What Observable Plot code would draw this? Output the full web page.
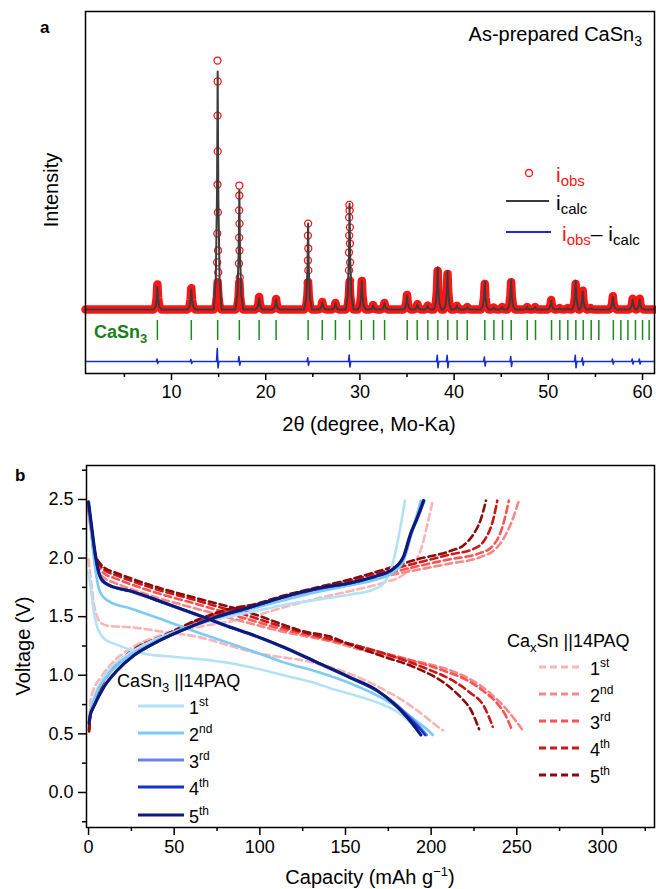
<!DOCTYPE html>
<html><head><meta charset="utf-8">
<script src="https://cdn.jsdelivr.net/npm/d3@7"></script>
<script src="https://cdn.jsdelivr.net/npm/@observablehq/plot@0.6"></script>
<style>
body{margin:0;background:#fff;}
#wrap{position:relative;width:656px;height:889px;overflow:hidden;}
#pa{position:absolute;left:0;top:0}
#pb{position:absolute;left:0;top:440px}
svg{overflow:visible}
</style></head><body><div id="wrap"><div id="pa"></div><div id="pb"></div></div>
<script>
const FONT = "'Liberation Sans', Arial, Helvetica, sans-serif";

// ---------- Panel a: XRD ----------
const peakPos    = [8.5, 12.1, 14.9, 17.2, 19.3, 21.1, 24.5, 26.0, 27.4, 28.9, 30.2, 31.4, 32.6, 35.0, 36.1, 37.2, 38.25, 39.3, 40.3, 41.4, 43.25, 44.2, 45.1, 46.05, 47.75, 48.6, 50.3, 51.2, 52.05, 52.9, 53.65, 54.5, 56.85, 58.95, 59.7];
const calcHeight = [9.0, 8.0, 95.6, 48.0, 4.5, 4.0, 34.5, 2.8, 2.5, 42.5, 11.5, 1.5, 2.5, 5.5, 2.0, 1.5, 17.0, 15.4, 1.5, 1.0, 11.2, 0.8, 1.0, 11.9, 1.0, 1.0, 3.5, 0.5, 0.5, 11.6, 7.2, 0.5, 5.0, 4.0, 4.0];
const obsHeight  = [10.0, 8.5, 100, 50, 5.0, 4.2, 34.5, 3.0, 2.6, 42, 11.5, 1.8, 2.6, 5.8, 2.2, 1.6, 15.5, 14.3, 1.5, 1.0, 10.3, 0.8, 1.0, 11.0, 1.0, 1.0, 3.8, 0.5, 0.5, 10.3, 7.5, 0.5, 5.3, 4.3, 4.3];
const shapeDx   = [-0.42, -0.2, -0.07, 0, 0.07, 0.2, 0.42];
const shapeFrac = [0, 0.13, 0.48, 1, 0.48, 0.13, 0];
// resolved observed points on the tall reflections [2theta, intensity]
const obsPeakPoints = [
  [14.88,100],[14.9,91.6],[14.88,77.9],[14.9,63.5],[14.88,50.2],[14.92,39],[14.86,30.5],[14.94,23.7],[14.84,18.9],[14.96,14.9],
  [17.2,49.8],[17.2,45.8],[17.18,39.8],[17.22,34.5],[17.18,28.9],[17.22,23.7],[17.16,18.5],[17.24,12.9],
  [24.5,34.5],[24.48,29.7],[24.52,24.5],[24.48,19.7],[24.52,15.7],[24.46,10.8],
  [28.88,42],[28.9,39.8],[28.86,37],[28.94,33],[28.86,29.7],[28.94,26.5],[28.84,22.9],[28.96,18.9],[28.84,15.7],[28.96,11.6]
];
const braggPos = [8.5, 12.1, 14.9, 17.2, 19.3, 21.1, 24.5, 26.0, 27.4, 28.9, 30.15, 31.45, 32.62, 35.02, 36.08, 37.21, 38.27, 39.33, 40.32, 41.39, 43.26, 44.22, 45.14, 46.06, 47.76, 48.64, 50.34, 51.22, 52.07, 52.92, 53.70, 54.55, 55.36, 56.9, 57.7, 58.45, 59.25, 60.0, 60.7];
const diffPos  = [8.5, 12.1, 14.9, 17.2, 24.5, 28.9, 38.25, 39.3, 43.25, 46.05, 52.9, 53.65, 56.85, 58.95, 59.7];
const diffUp   = [1.0, 0.8, 5.2, 2.0, 1.5, 2.6, 2.5, 2.5, 1.8, 2.0, 2.5, 1.5, 1.0, 1.0, 1.0];
const diffDown = [0.8, 0.8, 2.6, 1.5, 1.5, 2.2, 2.5, 2.5, 1.8, 2.0, 2.5, 1.5, 1.0, 1.0, 1.0];
const diffBase = -20.9;
const xTicksA = [10, 20, 30, 40, 50, 60];
const xMinorA = [5, 15, 25, 35, 45, 55];
const xDomA = [0.87, 61.27];

// ---------- Panel b: voltage profiles [capacity, voltage] ----------
const casnDis1 = [[0,1.88],[1.5,1.72],[3,1.55],[4.5,1.44],[7,1.35],[10,1.3],[15,1.27],[24,1.22],[34,1.18],[48,1.16],[63,1.14],[80,1.11],[94,1.07],[106,1.03],[114,1.0],[133,0.93],[141,0.89],[153,0.84],[170,0.76],[182,0.67],[189,0.58],[192.5,0.52],[194.5,0.49]];
const casnDis2 = [[0,2.45],[2,2.15],[4,1.9],[6,1.74],[8,1.68],[12,1.63],[24.5,1.57],[44,1.47],[63,1.37],[83,1.27],[95,1.21],[114,1.11],[133.5,1.03],[153,0.93],[172,0.8],[186,0.67],[194,0.58],[199,0.52],[201,0.49]];
const casnDis3 = [[0,2.47],[2,2.22],[4,2.0],[6,1.86],[8,1.8],[12,1.765],[24.5,1.715],[44,1.615],[63,1.515],[83,1.405],[95,1.345],[114,1.235],[133.5,1.105],[153,0.975],[168.5,0.865],[179,0.76],[188,0.64],[194,0.55],[197.5,0.49]];
const casnDis4 = [[0,2.47],[2,2.23],[4,2.01],[6,1.87],[8,1.81],[12,1.768],[24.5,1.718],[44,1.618],[63,1.518],[83,1.408],[95,1.348],[114,1.238],[133.5,1.108],[153,0.978],[168.5,0.868],[178.5,0.76],[187,0.64],[193,0.55],[196.5,0.49]];
const casnDis5 = [[0,2.48],[2,2.25],[4,2.03],[6,1.88],[7.5,1.82],[12,1.77],[24.5,1.72],[44,1.62],[63,1.52],[83,1.41],[95,1.35],[114,1.24],[133.5,1.11],[153,0.98],[168.5,0.87],[178,0.76],[186,0.64],[191,0.55],[194,0.49]];
const casnCha1 = [[0.3,0.6],[1,0.68],[2.5,0.78],[5,0.88],[9,0.99],[14,1.08],[22,1.17],[35,1.28],[52,1.38],[73,1.47],[95,1.54],[114,1.6],[133.5,1.645],[153,1.69],[166,1.73],[172,1.78],[176,1.88],[179,2.04],[182,2.26],[184.7,2.49]];
const casnCha2 = [[0.3,0.6],[1,0.67],[2.5,0.76],[5,0.86],[9,0.96],[15,1.06],[24,1.17],[36,1.27],[52,1.38],[72,1.48],[93,1.56],[114,1.64],[133.5,1.71],[153,1.77],[168.5,1.82],[178,1.88],[184,1.98],[188,2.18],[191.5,2.36],[194,2.49]];
const casnCha3 = [[0.3,0.6],[1,0.665],[3,0.74],[9,0.905],[16.7,1.045],[26.5,1.17],[38,1.27],[54,1.38],[73,1.485],[93,1.57],[114,1.665],[133.5,1.735],[153,1.785],[168.5,1.845],[178,1.905],[184.5,2.02],[188.5,2.21],[192.5,2.35],[196,2.49]];
const casnCha4 = [[0.3,0.6],[1,0.662],[3,0.735],[9,0.902],[16.7,1.042],[26.5,1.17],[38,1.27],[54,1.38],[73,1.487],[93,1.572],[114,1.668],[133.5,1.738],[153,1.788],[168.5,1.848],[178,1.908],[184.2,2.02],[188.2,2.21],[192.2,2.35],[195.8,2.49]];
const casnCha5 = [[0.3,0.59],[1,0.66],[3,0.73],[9,0.9],[16.7,1.04],[26.5,1.17],[38,1.27],[54,1.38],[73,1.49],[93,1.575],[114,1.67],[133.5,1.74],[153,1.79],[168.5,1.85],[178,1.91],[184,2.02],[188,2.21],[192,2.35],[195.5,2.49]];

const caxsnDis1 = [[0,1.99],[1.5,1.8],[3,1.62],[5,1.5],[7,1.45],[12,1.42],[24.5,1.41],[44,1.37],[63,1.33],[83,1.25],[95,1.2],[110,1.16],[124,1.13],[141,1.07],[153,1.01],[172,0.88],[186,0.76],[198,0.63],[204,0.56],[207,0.53]];
const caxsnDis2 = [[0,2.4],[2,2.15],[4,1.95],[7,1.86],[10,1.82],[15,1.79],[36,1.68],[65,1.56],[95,1.44],[114,1.37],[141,1.29],[161,1.21],[180,1.15],[200,1.09],[215,1.02],[229,0.91],[238,0.8],[244,0.71],[250,0.6],[253,0.54]];
const caxsnDis3 = [[0,2.42],[2,2.18],[4,1.99],[7,1.9],[10,1.86],[15,1.83],[36,1.72],[65,1.6],[95,1.47],[114,1.39],[141,1.3],[170,1.2],[190,1.12],[209,1.03],[222,0.95],[231,0.86],[238,0.77],[243,0.67],[247,0.54]];
const caxsnDis4 = [[0,2.43],[2,2.2],[4,2.0],[7,1.93],[10,1.89],[15,1.86],[36,1.75],[65,1.63],[95,1.5],[114,1.41],[141,1.31],[160,1.24],[180,1.15],[200,1.04],[212,0.96],[222,0.86],[231,0.73],[236,0.56]];
const caxsnDis5 = [[0,2.45],[2,2.22],[4,2.03],[7,1.95],[10,1.91],[15,1.88],[36,1.77],[65,1.65],[95,1.53],[114,1.43],[124,1.38],[141,1.33],[153,1.26],[170,1.17],[190,1.07],[209,0.92],[218,0.8],[223,0.71],[228,0.54]];
const caxsnCha1 = [[0.3,0.55],[1.2,0.78],[3,0.88],[7,0.98],[14.8,1.12],[24.5,1.23],[40,1.33],[63,1.41],[83,1.46],[95,1.5],[114,1.58],[133.5,1.655],[153,1.72],[172,1.79],[184,1.86],[191,1.97],[195,2.12],[198,2.3],[201,2.49]];
const caxsnCha2 = [[0.3,0.54],[1,0.67],[2.1,0.74],[7,0.9],[14.8,1.06],[24.5,1.18],[44,1.32],[63,1.44],[83,1.53],[95,1.57],[114,1.65],[133.5,1.72],[153,1.77],[172,1.84],[192,1.9],[210,1.95],[229,2.01],[237,2.07],[242,2.16],[247.3,2.32],[251.2,2.49]];
const caxsnCha3 = [[0.3,0.54],[1,0.67],[2.1,0.72],[7,0.9],[14.8,1.065],[24.5,1.19],[44,1.33],[63,1.455],[83,1.55],[95,1.585],[114,1.665],[133.5,1.735],[153,1.79],[172,1.86],[192,1.93],[211,1.99],[228,2.04],[235,2.09],[241.5,2.26],[245.4,2.49]];
const caxsnCha4 = [[0.3,0.53],[1,0.66],[2.1,0.71],[7,0.9],[14.8,1.07],[24.5,1.2],[44,1.335],[63,1.465],[83,1.56],[95,1.595],[114,1.675],[133.5,1.745],[153,1.81],[172,1.885],[192,1.96],[211,2.03],[225,2.08],[231,2.15],[236.6,2.35],[238.6,2.49]];
const caxsnCha5 = [[0.3,0.52],[1,0.65],[2.1,0.7],[7,0.9],[14.8,1.07],[24.5,1.2],[44,1.34],[63,1.47],[83,1.57],[95,1.6],[114,1.68],[133.5,1.75],[153,1.82],[172,1.9],[192,1.99],[211,2.06],[219,2.11],[225,2.21],[229,2.33],[232,2.49]];

const cycleLabels = ["1", "2", "3", "4", "5"];
const cycleSup = ["st", "nd", "rd", "th", "th"];
const casnColors  = ["#b4e1fa", "#7ccaf6", "#6a82ee", "#1432c8", "#0c1b78"];
const caxsnColors = ["#fcb4b4", "#f88888", "#ff5252", "#c81818", "#8b0b0b"];
const xTicksB = [0, 50, 100, 150, 200, 250, 300];
const xMinorB = [25, 75, 125, 175, 225, 275, 325];
const yTicksB = [0, 0.5, 1.0, 1.5, 2.0, 2.5];
const yMinorB = [-0.25, 0.25, 0.75, 1.25, 1.75, 2.25, 2.75];

// ---------- helpers ----------
function rich(svg, x, y, parts, o = {}) {
  const size = o.size || 18;
  const t = d3.select(svg).append("text")
    .attr("x", x).attr("y", y)
    .attr("font-family", FONT).attr("font-size", size)
    .attr("text-anchor", o.anchor || "start")
    .attr("font-weight", o.weight || "normal")
    .attr("fill", o.fill || "#000");
  if (o.transform) t.attr("transform", o.transform);
  let shift = 0;
  for (const [s, kind, color, fs] of parts) {
    const ts = t.append("tspan").text(s);
    const target = kind === "sub" ? (o.subShift ?? size * 0.28) : kind === "sup" ? -size * 0.42 : 0;
    if (target - shift !== 0) ts.attr("dy", target - shift);
    shift = target;
    if (kind) ts.attr("font-size", fs || Math.round(size * 0.68));
    else if (fs) ts.attr("font-size", fs);
    if (color) ts.attr("fill", color);
  }
  return t;
}
function seg(svg, x1, y1, x2, y2, stroke, w, dash) {
  const l = d3.select(svg).append("line").attr("x1", x1).attr("y1", y1).attr("x2", x2).attr("y2", y2)
    .attr("stroke", stroke).attr("stroke-width", w);
  if (dash) l.attr("stroke-dasharray", dash);
}

// ---------- build panel a ----------
function profile(heights, cap) {
  const pts = [[xDomA[0], 0], [xDomA[1], 0]];
  peakPos.forEach((p, i) => {
    const h = cap && heights[i] > 20 ? 11 : heights[i];
    shapeDx.forEach((dx, k) => pts.push([p + dx, h * shapeFrac[k]]));
  });
  return pts.sort((a, b) => a[0] - b[0]).map(([x, y]) => ({x, y}));
}
const calcPts = profile(calcHeight, false);
const obsBand = profile(obsHeight, true);
const obsDots = obsPeakPoints.map(([x, y]) => ({x, y}));
const diffPts = [{x: xDomA[0], y: diffBase}];
diffPos.forEach((p, i) => {
  diffPts.push({x: p - 0.12, y: diffBase}, {x: p - 0.04, y: diffBase + diffUp[i]},
               {x: p + 0.04, y: diffBase - diffDown[i]}, {x: p + 0.12, y: diffBase});
});
diffPts.push({x: xDomA[1], y: diffBase});

const svgA = Plot.plot({
  width: 656, height: 440,
  marginLeft: 85, marginRight: 2, marginTop: 11, marginBottom: 67,
  style: {fontFamily: FONT, fontSize: "18px", color: "#000", background: "transparent"},
  x: {domain: xDomA},
  y: {domain: [-25.7, 119.7], axis: null},
  marks: [
    Plot.line(obsBand, {x: "x", y: "y", stroke: "#ff1414", strokeWidth: 8.5, strokeLinejoin: "round"}),
    Plot.dot(obsDots, {x: "x", y: "y", r: 3.5, stroke: "#ff1414", strokeWidth: 1.3, fill: "none"}),
    Plot.line(calcPts, {x: "x", y: "y", stroke: "#3c3c3c", strokeWidth: 2}),
    Plot.ruleX(braggPos, {y1: -4.4, y2: -12.4, stroke: "#1a8a1a", strokeWidth: 1.5}),
    Plot.line(diffPts, {x: "x", y: "y", stroke: "#1a2ecc", strokeWidth: 1.6}),
    Plot.frame({stroke: "#000", strokeWidth: 1.5}),
    Plot.axisX(xTicksA, {tickSize: 7, tickPadding: 5, fontSize: 18, strokeWidth: 1.5, label: null, tickFormat: d => String(d)}),
    Plot.axisX(xMinorA, {tickSize: 4, strokeWidth: 1.5, label: null, tickFormat: () => ""})
  ]
});
document.getElementById("pa").appendChild(svgA);

rich(svgA, 40, 33, [["a"]], {size: 17, weight: "bold"});
rich(svgA, 642, 41, [["As-prepared CaSn"], ["3", "sub", null, 14]], {size: 20, anchor: "end", subShift: 5});
rich(svgA, 0, 0, [["Intensity"]], {size: 20, anchor: "middle", transform: "translate(58,190) rotate(-90)"});
rich(svgA, 94, 338, [["CaSn"], ["3", "sub", null, 13]], {size: 18, weight: "bold", fill: "#1a7f1a", subShift: 5});
// legend a
d3.select(svgA).append("circle").attr("cx", 529).attr("cy", 173).attr("r", 3.5)
  .attr("fill", "none").attr("stroke", "#ff1414").attr("stroke-width", 1.3);
rich(svgA, 556, 182, [["i"], ["obs", "sub", null, 15]], {size: 21, fill: "#ff1414", subShift: 4});
seg(svgA, 506, 201, 549, 201, "#3c3c3c", 2);
rich(svgA, 556, 210, [["i"], ["calc", "sub", null, 15]], {size: 21, subShift: 4});
seg(svgA, 506, 232, 551, 232, "#1a2ecc", 2);
rich(svgA, 562, 241, [["i", null, "#ff1414"], ["obs", "sub", "#ff1414", 15], ["– i", null, "#000"], ["calc", "sub", "#000", 15]], {size: 21, subShift: 4});
rich(svgA, 369, 431, [["2θ (degree, Mo-Ka)"]], {size: 20, anchor: "middle"});

// ---------- build panel b ----------
const casnCurves = [[casnDis1, casnCha1], [casnDis2, casnCha2], [casnDis3, casnCha3], [casnDis4, casnCha4], [casnDis5, casnCha5]];
const caxsnCurves = [[caxsnDis1, caxsnCha1], [caxsnDis2, caxsnCha2], [caxsnDis3, caxsnCha3], [caxsnDis4, caxsnCha4], [caxsnDis5, caxsnCha5]];
const toRows = arr => arr.map(([cap, v]) => ({cap, v}));
const marksB = [];
caxsnCurves.forEach((pair, i) => pair.forEach(c => marksB.push(
  Plot.line(toRows(c), {x: "cap", y: "v", stroke: caxsnColors[i], strokeWidth: 2.6, strokeDasharray: "7,4", curve: "monotone-x"})
)));
casnCurves.forEach((pair, i) => pair.forEach(c => marksB.push(
  Plot.line(toRows(c), {x: "cap", y: "v", stroke: casnColors[i], strokeWidth: i === 4 ? 3 : 2.6, curve: "monotone-x"})
)));

const svgB = Plot.plot({
  width: 656, height: 449,
  marginLeft: 86, marginRight: 2, marginTop: 25, marginBottom: 62,
  style: {fontFamily: FONT, fontSize: "18px", color: "#000", background: "transparent"},
  x: {domain: [-1.2, 330.4]},
  y: {domain: [-0.299, 2.79]},
  marks: [
    ...marksB,
    Plot.frame({stroke: "#000", strokeWidth: 1.5}),
    Plot.axisX(xTicksB, {tickSize: 8, tickPadding: 5, fontSize: 18, strokeWidth: 1.5, label: null, tickFormat: d => String(d)}),
    Plot.axisX(xMinorB, {tickSize: 4, strokeWidth: 1.5, label: null, tickFormat: () => ""}),
    Plot.axisY(yTicksB, {tickSize: 8, tickPadding: 5, fontSize: 18, strokeWidth: 1.5, label: null, tickFormat: d => d.toFixed(1)}),
    Plot.axisY(yMinorB, {tickSize: 4, strokeWidth: 1.5, label: null, tickFormat: () => ""})
  ]
});
document.getElementById("pb").appendChild(svgB);

rich(svgB, 15, 41, [["b"]], {size: 17, weight: "bold"});
rich(svgB, 0, 0, [["Voltage (V)"]], {size: 20, anchor: "middle", transform: "translate(30,206) rotate(-90)"});
rich(svgB, 370, 444, [["Capacity (mAh g"], ["−1", "sup", null, 13], [")"]], {size: 20, anchor: "middle"});
// legends b
rich(svgB, 117, 247, [["CaSn"], ["3", "sub", null, 13], [" ||14PAQ", null, null, 18]], {size: 18, subShift: 5});
rich(svgB, 507, 207, [["Ca"], ["x", "sub", null, 13], ["Sn ||14PAQ", null, null, 18]], {size: 18, subShift: 5});
const legYB = [266, 293, 320, 347, 375];
const legYR = [227, 254, 281, 308, 335];
cycleLabels.forEach((lab, i) => {
  seg(svgB, 138, legYB[i], 184, legYB[i], casnColors[i], 3);
  rich(svgB, 189, legYB[i] + 8, [[lab], [cycleSup[i], "sup", null, 12]], {size: 18});
  seg(svgB, 539, legYR[i], 580, legYR[i], caxsnColors[i], 3, "7,4");
  rich(svgB, 590, legYR[i] + 8, [[lab], [cycleSup[i], "sup", null, 12]], {size: 18});
});
</script></body></html>
